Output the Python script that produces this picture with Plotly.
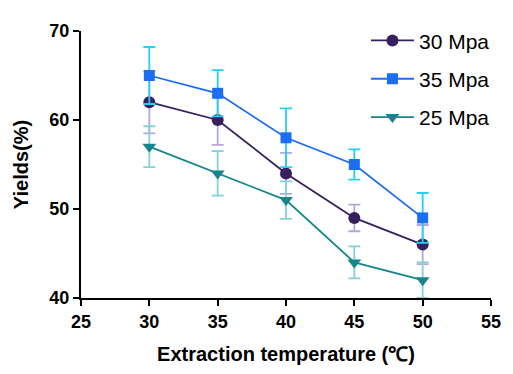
import plotly.graph_objects as go

temps = [30, 35, 40, 45, 50]
y30 = [62, 60, 54, 49, 46]
e30 = [3.5, 2.8, 2.3, 1.5, 2.2]
y35 = [65, 63, 58, 55, 49]
e35 = [3.2, 2.6, 3.3, 1.7, 2.8]
y25 = [57, 54, 51, 44, 42]
e25 = [2.3, 2.5, 2.1, 1.8, 2.0]

x_ticks = [25, 30, 35, 40, 45, 50, 55]
y_ticks = [40, 50, 60, 70]

series = [
    ("30 Mpa", y30, e30, "#36205f", "#b7a6dd", "circle", 12),
    ("35 Mpa", y35, e35, "#1c6ef0", "#22d0f3", "square", 11),
    ("25 Mpa", y25, e25, "#14868b", "#84d2d4", "triangle-down", 12),
]

fig = go.Figure()
for name, ys, es, c, ec, sym, sz in series:
    fig.add_trace(go.Scatter(
        x=temps, y=ys, name=name, mode="lines+markers",
        legendgroup=name,
        line=dict(color=c, width=1.8),
        marker=dict(symbol=sym, size=sz, color=c),
        error_y=dict(type="data", array=es, visible=True, color=ec,
                     thickness=1.8, width=6),
    ))

axis_common = dict(
    showline=True, linecolor="black", linewidth=2,
    ticks="outside", ticklen=6, tickwidth=2, tickcolor="black",
    showgrid=False, zeroline=False,
    tickfont=dict(family="Liberation Sans", size=18, color="black", weight="bold"),
)

fig.update_layout(
    width=505, height=366,
    paper_bgcolor="white", plot_bgcolor="white",
    margin=dict(l=73, r=14, t=12, b=75),
    font=dict(family="Liberation Sans", color="black"),
    xaxis=dict(range=[25, 55], tickvals=x_ticks, **axis_common,
               title=dict(text="<b>Extraction temperature (℃)</b>",
                          font=dict(size=20, family="Liberation Sans"), standoff=16)),
    yaxis=dict(range=[40, 70], tickvals=y_ticks, **axis_common,
               title=dict(text="<b>Yields(%)</b>",
                          font=dict(size=20, family="Liberation Sans"), standoff=15)),
    legend=dict(x=0.695, y=1.04, xanchor="left", yanchor="top",
                font=dict(size=21, family="Liberation Sans"),
                itemwidth=43,
                tracegroupgap=8, bgcolor="rgba(0,0,0,0)"),
)

fig.write_html("out.html")
